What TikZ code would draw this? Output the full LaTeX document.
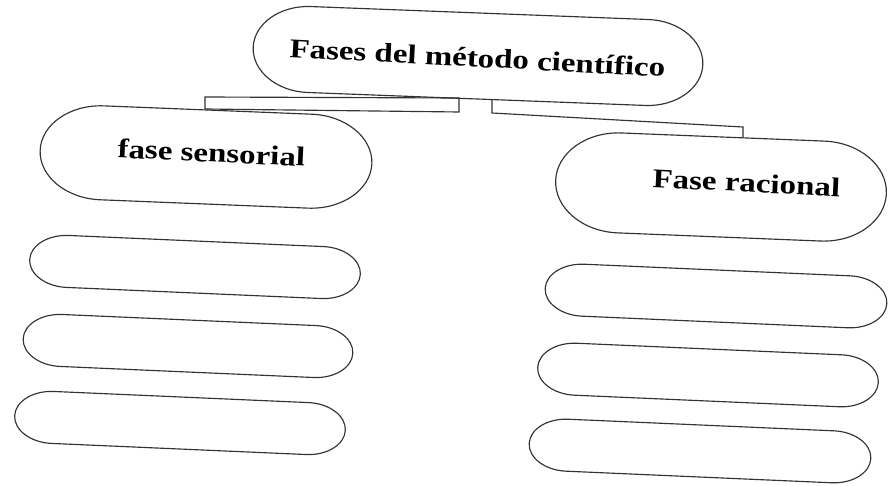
\documentclass[tikz,border=0pt]{standalone}
\usepackage{fontspec}
\usepackage{graphicx}
\setmainfont{Liberation Serif}
\newcommand{\lbltxt}[1]{\scalebox{1.22}[1]{\fontsize{27}{30}\selectfont\bfseries #1}}
\tikzset{
  pillline/.style={draw=black!80, line width=1.15pt},
  lbl/.style={anchor=base, inner sep=0pt, text=black},
  conn/.style={draw=black!80, line width=1.15pt, line join=miter}
}
% #1 name, #2 x, #3 y, #4 width, #5 height, #6 rotation, #7 end x-radius
\newcommand{\pillbox}[7]{%
  \node[minimum width=#4pt, minimum height=#5pt, inner sep=0pt, rotate=#6] (#1) at (#2,#3) {};
  \draw[pillline, shift={(#1.center)}, rotate=#6]
    ({-#4/2+#7},{#5/2}) -- ({#4/2-#7},{#5/2})
    arc[start angle=-90, end angle=90, x radius=#7pt, y radius=#5/2*1pt]
    -- ({-#4/2+#7},{-#5/2})
    arc[start angle=90, end angle=270, x radius=#7pt, y radius=#5/2*1pt]
    -- cycle;
}
\begin{document}
\begin{tikzpicture}[x=1pt, y=-1pt]
\useasboundingbox[fill=white] (0,0) rectangle (890,486);
% main boxes
\pillbox{top}{478}{56}{450}{86}{-2.2}{56}
\pillbox{sens}{206}{157}{332}{94}{-2.3}{62}
\pillbox{rac}{721}{187}{331}{100}{-2.3}{64}
% labels
\node[lbl, rotate=-3] (ttop) at (477,67) {\lbltxt{Fases del método científico}};
\node[lbl, rotate=-2.7] (tsens) at (211,162) {\lbltxt{fase sensorial}};
\node[lbl, rotate=-2.8] (trac) at (746,192) {\lbltxt{Fase racional}};
% blank boxes
\pillbox{l1}{195}{267}{331}{52}{-2.5}{38}
\pillbox{l2}{188}{346}{330}{52}{-2.5}{38}
\pillbox{l3}{180}{423}{331}{52}{-2.5}{38}
\pillbox{r1}{716}{296}{342}{52}{-2.5}{38}
\pillbox{r2}{708}{375}{341}{52}{-2.5}{38}
\pillbox{r3}{700}{451}{342}{52}{-2.5}{38}
% connectors
\coordinate (la) at (205,97);
\coordinate (lb) at (459,98);
\coordinate (lc) at (459,112);
\coordinate (ld) at (205,109);
\draw[conn] (la) -- (lb) -- (lc) -- (ld) -- cycle;
\coordinate (ra) at (492,100);
\coordinate (rb) at (492,113);
\coordinate (rc) at (743,127);
\coordinate (rd) at (743,138);
\draw[conn] (ra) -- (rb) -- (rc) -- (rd);
\end{tikzpicture}
\end{document}
